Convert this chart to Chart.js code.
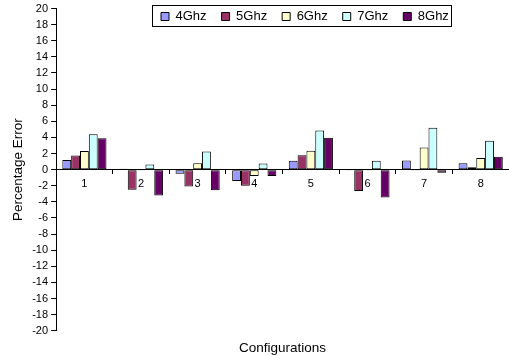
<!DOCTYPE html>
<html>
<head>
<meta charset="utf-8">
<script src="https://cdn.jsdelivr.net/npm/chart.js@4/dist/chart.umd.min.js"></script>
<style>
  html, body { margin: 0; padding: 0; background: #ffffff; }
  canvas { display: block; }
</style>
</head>
<body>
<canvas id="chart" width="509" height="356"></canvas>
<script>
// Configurations along the x axis
const configurations = ['1', '2', '3', '4', '5', '6', '7', '8'];

// Percentage error per configuration, one array per clock frequency
const ghz4 = [1.2, 0.1, -0.5, -1.4, 1.1, -0.1, 1.15, 0.8];
const ghz5 = [1.75, -2.5, -2.1, -2.0, 1.8, -2.65, -0.1, 0.3];
const ghz6 = [2.3, -0.05, 0.8, -0.8, 2.35, -0.05, 2.75, 1.45];
const ghz7 = [4.4, 0.65, 2.25, 0.75, 4.85, 1.1, 5.2, 3.6];
const ghz8 = [3.9, -3.2, -2.55, -0.8, 3.95, -3.45, -0.4, 1.6];

const seriesNames = ['4Ghz', '5Ghz', '6Ghz', '7Ghz', '8Ghz'];
const seriesValues = [ghz4, ghz5, ghz6, ghz7, ghz8];
const seriesColors = ['#9999FF', '#993366', '#FFFFCC', '#CCFFFF', '#660066'];

// Y axis range and step
const yMin = -20;
const yMax = 20;
const yStep = 2;

const FONT = "'Liberation Sans', Arial, sans-serif";

// Lets the horizontal legend float over the plot instead of taking a band
// above it, places it, and frames it with a thin border
const legendFrame = {
  id: 'legendFrame',
  beforeUpdate(chart) {
    const lg = chart.legend;
    if (lg && !lg._floating) {
      const fit = lg.fit;
      lg.fit = function () {
        fit.call(this);
        this._realHeight = this.height;
        this.height = 0;
      };
      lg._floating = true;
    }
  },
  afterUpdate(chart) {
    const lg = chart.legend;
    if (!lg || !lg.legendHitBoxes || !lg.legendHitBoxes.length) return;
    const first = lg.legendHitBoxes[0];
    const dx = 161 - first.left;
    const dy = 10 - first.top;
    lg.left += dx; lg.right += dx;
    lg.top += dy;
    lg.height = lg._realHeight || 0;
    lg.bottom = lg.top + lg.height;
    lg.legendHitBoxes.forEach(h => { h.left += dx; h.top += dy; });
  },
  afterDraw(chart) {
    const lg = chart.legend;
    if (!lg || !lg.legendHitBoxes || !lg.legendHitBoxes.length) return;
    const hb = lg.legendHitBoxes;
    const last = hb[hb.length - 1];
    const x0 = hb[0].left - 9;
    const x1 = last.left + last.width + 2;
    const y0 = hb[0].top - 5;
    const y1 = hb[0].top + hb[0].height + 3;
    const ctx = chart.ctx;
    ctx.save();
    ctx.strokeStyle = '#000000';
    ctx.lineWidth = 1;
    ctx.strokeRect(Math.round(x0) + 0.5, Math.round(y0) + 0.5, Math.round(x1 - x0), Math.round(y1 - y0));
    ctx.restore();
  }
};

const chart = new Chart(document.getElementById('chart'), {
  type: 'bar',
  data: {
    labels: configurations,
    datasets: seriesNames.map((name, i) => ({
      label: name,
      data: seriesValues[i],
      backgroundColor: seriesColors[i],
      borderColor: '#000000',
      borderWidth: 1,
      borderSkipped: false,
      categoryPercentage: 0.78,
      barPercentage: 1.0
    }))
  },
  options: {
    responsive: false,
    animation: false,
    devicePixelRatio: 1,
    layout: { padding: { left: 6, right: 0, top: 0, bottom: 0 } },
    scales: {
      x: {
        position: { y: 0 },
        grid: {
          display: true,
          drawOnChartArea: false,
          drawTicks: true,
          tickLength: 4,
          color: '#000000',
          offset: true
        },
        border: { display: true, color: '#000000', width: 1 },
        ticks: {
          color: '#000000',
          font: { family: FONT, size: 11 },
          padding: 4,
          maxRotation: 0
        }
      },
      y: {
        min: yMin,
        max: yMax,
        grid: {
          display: true,
          drawOnChartArea: false,
          drawTicks: true,
          tickLength: 5,
          color: '#000000'
        },
        border: { display: true, color: '#000000', width: 1 },
        ticks: {
          stepSize: yStep,
          autoSkip: false,
          color: '#000000',
          font: { family: FONT, size: 11, lineHeight: 1.0 },
          padding: 3
        },
        title: {
          display: true,
          text: 'Percentage Error',
          color: '#000000',
          font: { family: FONT, size: 13.5 },
          padding: { top: 4, bottom: 3 }
        }
      }
    },
    plugins: {
      legend: {
        display: true,
        position: 'top',
        align: 'start',
        labels: {
          boxWidth: 8,
          boxHeight: 8,
          padding: 15,
          color: '#000000',
          font: { family: FONT, size: 13 }
        }
      },
      title: {
        display: true,
        position: 'bottom',
        fullSize: false,
        text: 'Configurations',
        color: '#000000',
        font: { family: FONT, size: 13.5, weight: 'normal' },
        padding: { top: 9, bottom: 0 }
      },
      tooltip: { enabled: false }
    }
  },
  plugins: [legendFrame]
});
</script>
</body>
</html>
